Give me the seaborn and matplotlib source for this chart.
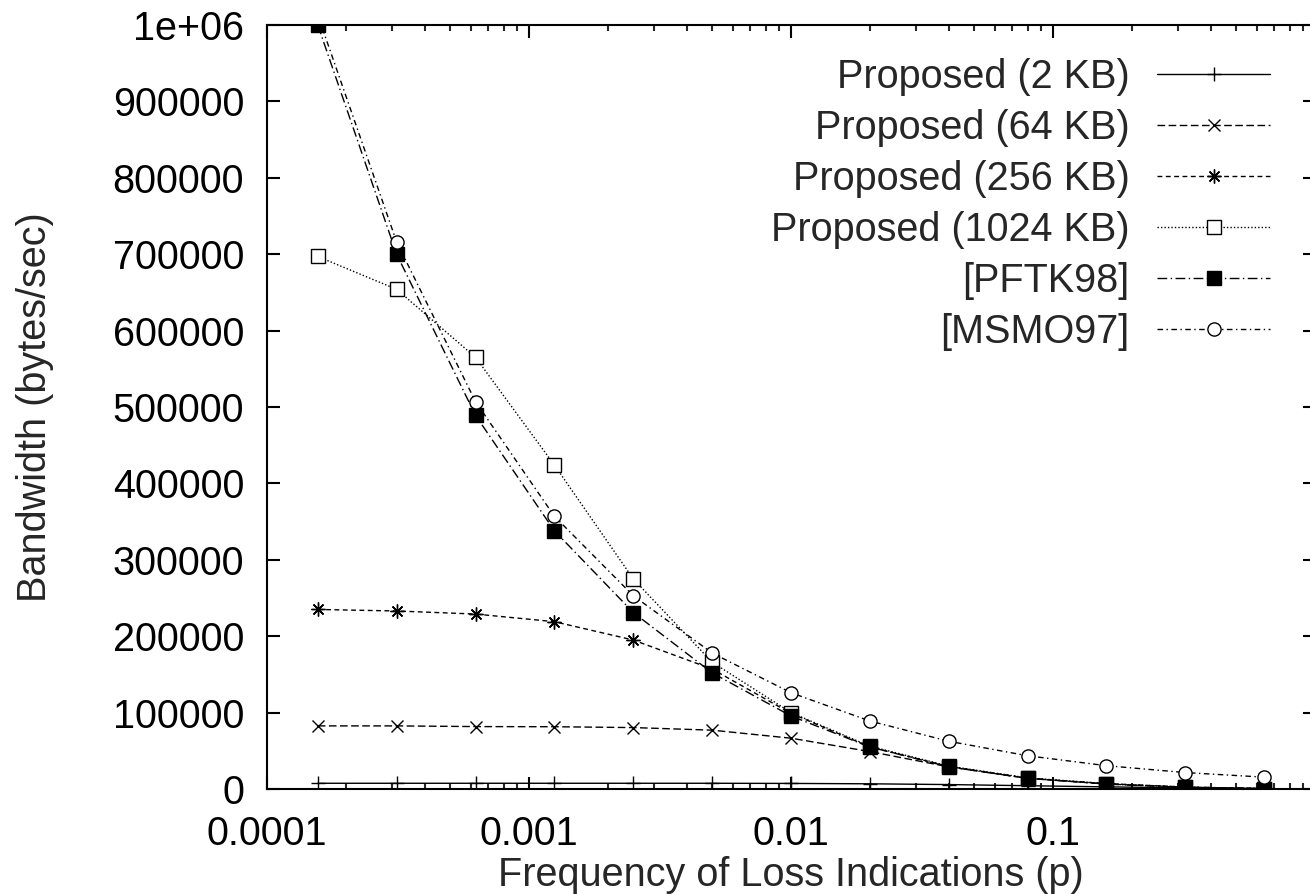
import matplotlib
matplotlib.use("Agg")
import matplotlib.pyplot as plt
import seaborn as sns
import pandas as pd
from matplotlib.ticker import FixedLocator, FixedFormatter, NullFormatter, LogLocator

# ---- data ----
p_values = [0.00015625, 0.0003125, 0.000625, 0.00125, 0.0025, 0.005, 0.01,
            0.02, 0.04, 0.08, 0.16, 0.32, 0.64]
prop_2kb = [7500, 7500, 7500, 7500, 7500, 7500, 7300, 6800, 5800, 4300, 2800, 1500, 700]
prop_64kb = [82600, 82600, 81700, 81500, 80400, 77000, 66500, 49000, 29000, 14000, 6500, 2500, 500]
prop_256kb = [235000, 233000, 229000, 219000, 195000, 157000, 99000, 55000, 29500, 14000, 7000, 2500, 500]
prop_1024kb = [697000, 654000, 565000, 424000, 275000, 166000, 100000, 56000, 30000, 14500, 7000, 2500, 500]
pftk98 = [1000000, 700000, 489000, 338000, 231000, 152000, 95600, 55000, 29000, 14000, 6500, 2000, 500]
msmo97 = [1013000, 716000, 507000, 357000, 253000, 178000, 126000, 89000, 62500, 43500, 30500, 21500, 15500]

series_labels = ["Proposed (2 KB)", "Proposed (64 KB)", "Proposed (256 KB)",
                 "Proposed (1024 KB)", "[PFTK98]", "[MSMO97]"]
y_ticks = [0, 100000, 200000, 300000, 400000, 500000, 600000, 700000, 800000, 900000, 1000000]
y_tick_labels = ["0", "100000", "200000", "300000", "400000", "500000", "600000",
                 "700000", "800000", "900000", "1e+06"]
x_ticks = [0.0001, 0.001, 0.01, 0.1]
x_tick_labels = ["0.0001", "0.001", "0.01", "0.1"]
x_label = "Frequency of Loss Indications (p)"
y_label = "Bandwidth (bytes/sec)"

series_values = [prop_2kb, prop_64kb, prop_256kb, prop_1024kb, pftk98, msmo97]

# ---- styles ----
styles = [
    dict(linestyle="-", marker="+", markersize=10, mew=1.0, mfc="none"),
    dict(linestyle=(0, (5.5, 2.5)), marker="x", markersize=8, mew=1.0, mfc="none"),
    dict(linestyle=(0, (3.5, 2.5)), marker=(8, 2, 0), markersize=10, mew=1.0, mfc="none"),
    dict(linestyle=(0, (1.0, 1.5)), marker="s", markersize=9.5, mew=1.0, mfc="white"),
    dict(linestyle=(0, (7, 2.5, 1, 2.5)), marker="s", markersize=9.5, mew=1.0, mfc="black"),
    dict(linestyle=(0, (4, 2.5, 1, 2.5)), marker="o", markersize=9.5, mew=1.0, mfc="white"),
]

sns.set_style("ticks")
plt.rcParams["font.family"] = ["Liberation Sans", "DejaVu Sans"]

FS = 28.5
fig = plt.figure(figsize=(13.10, 8.94), dpi=100)
ax = fig.add_axes([267 / 1310, 105 / 894, 1048 / 1310, 764 / 894])

for vals, lab, st in zip(series_values, series_labels, styles):
    df = pd.DataFrame({"p": p_values, "bw": vals})
    sns.lineplot(data=df, x="p", y="bw", ax=ax, color="black", linewidth=1.0,
                 label=lab, markeredgecolor="black", **st)

ax.set_xscale("log")
ax.set_xlim(0.0001, 1.0)
ax.set_ylim(0, 1000000)

ax.xaxis.set_major_locator(FixedLocator(x_ticks + [1.0]))
ax.xaxis.set_major_formatter(FixedFormatter(x_tick_labels + [""]))
ax.xaxis.set_minor_locator(LogLocator(base=10, subs=[2, 3, 4, 5, 6, 7, 8, 9], numticks=20))
ax.xaxis.set_minor_formatter(NullFormatter())
ax.yaxis.set_major_locator(FixedLocator(y_ticks))
ax.yaxis.set_major_formatter(FixedFormatter(y_tick_labels))

ax.tick_params(axis="both", which="major", direction="in", length=9, width=1.5,
               top=True, right=True, labelsize=FS, colors="black")
ax.tick_params(axis="both", which="minor", direction="in", length=4.5, width=1.5,
               top=True, right=True)
ax.tick_params(axis="x", which="major", pad=19)
ax.tick_params(axis="y", which="major", pad=16.5)
for s in ax.spines.values():
    s.set_visible(True)
    s.set_linewidth(1.5)
    s.set_color("black")

ax.set_xlabel(x_label, fontsize=FS, labelpad=2)
ax.set_ylabel(y_label, fontsize=FS, labelpad=42)

leg = ax.legend(loc="upper right", bbox_to_anchor=(0.957, 0.957), frameon=False,
                markerfirst=False, fontsize=FS, handlelength=2.85, handletextpad=0.7,
                labelspacing=0.33, borderaxespad=0, borderpad=0)

fig.savefig("out.png", dpi=100)
